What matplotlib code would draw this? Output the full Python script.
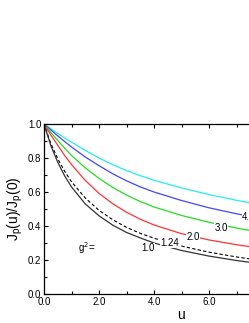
import matplotlib
matplotlib.use("Agg")
from matplotlib import pyplot as plt
from matplotlib.ticker import MultipleLocator, FormatStrFormatter

u = [0.0, 0.25, 0.5, 0.75, 1.0, 1.5, 2.0, 2.5, 3.0, 3.5, 4.0, 5.0, 6.0, 7.0, 7.5, 8.0]

g_10 = [1.0, 0.872, 0.775, 0.695, 0.63, 0.53, 0.46, 0.405, 0.362, 0.33, 0.30, 0.256, 0.223, 0.197, 0.186, 0.177]
g_124 = [1.0, 0.885, 0.795, 0.722, 0.66, 0.565, 0.492, 0.437, 0.392, 0.357, 0.328, 0.282, 0.246, 0.218, 0.206, 0.196]
g_20 = [1.0, 0.935, 0.875, 0.815, 0.762, 0.668, 0.592, 0.531, 0.481, 0.44, 0.406, 0.355, 0.318, 0.29, 0.278, 0.268]
g_30 = [1.0, 0.95, 0.903, 0.858, 0.815, 0.742, 0.68, 0.627, 0.582, 0.544, 0.512, 0.462, 0.422, 0.388, 0.373, 0.36]
g_40 = [1.0, 0.965, 0.93, 0.897, 0.865, 0.806, 0.755, 0.707, 0.666, 0.63, 0.60, 0.55, 0.507, 0.472, 0.456, 0.442]
g_inf = [1.0, 0.972, 0.944, 0.918, 0.893, 0.845, 0.80, 0.761, 0.726, 0.696, 0.669, 0.624, 0.585, 0.551, 0.536, 0.522]

# label text, position (u, value)
labels = ["1.0", "1.24", "2.0", "3.0", "4.0"]
label_u = [3.78, 4.58, 5.42, 6.44, 7.2]
label_v = [0.27, 0.30, 0.335, 0.39, 0.45]

plt.rcParams['font.family'] = ['Liberation Sans', 'DejaVu Sans']

fig = plt.figure(figsize=(2.49, 3.23), dpi=100)
# axes runs past the right edge of the picture (cropped figure)
ax = fig.add_axes([44/249, 29/323, 275/249, 170/323])

ax.plot(u, g_inf, color='#22eeee', lw=0.9)
ax.plot(u, g_40, color='#4444ff', lw=0.9)
ax.plot(u, g_30, color='#22dd22', lw=0.9)
ax.plot(u, g_20, color='#ff3333', lw=0.9)
ax.plot(u, g_124, color='black', lw=0.8, ls=(0, (3, 2)))
ax.plot(u, g_10, color='#333333', lw=0.9)

for i in range(len(labels)):
    ha = 'left' if i == len(labels) - 1 else 'center'
    ax.text(label_u[i], label_v[i], labels[i], fontsize=7, ha=ha, va='center',
            bbox=dict(facecolor='white', edgecolor='none', pad=0.3))
ax.text(1.56, 0.27, "g$^2$=", fontsize=7, ha='center', va='center')

ax.set_xlim(0, 10)
ax.set_ylim(0, 1)
ax.xaxis.set_major_locator(MultipleLocator(2))
ax.xaxis.set_minor_locator(MultipleLocator(1))
ax.yaxis.set_major_locator(MultipleLocator(0.2))
ax.yaxis.set_minor_locator(MultipleLocator(0.1))
ax.xaxis.set_major_formatter(FormatStrFormatter('%.1f'))
ax.yaxis.set_major_formatter(FormatStrFormatter('%.1f'))
ax.tick_params(which='both', direction='in', top=True, right=True, labelsize=7, pad=2, width=0.8)
ax.tick_params(which='major', length=3)
ax.tick_params(which='minor', length=2)
for s in ax.spines.values():
    s.set_linewidth(0.9)

ax.set_xlabel('u', fontsize=10, labelpad=1)
ax.set_ylabel('J$_\\mathregular{p}$(u)/J$_\\mathregular{p}$(0)', fontsize=10, labelpad=2)

fig.savefig('out.png', dpi=100)
